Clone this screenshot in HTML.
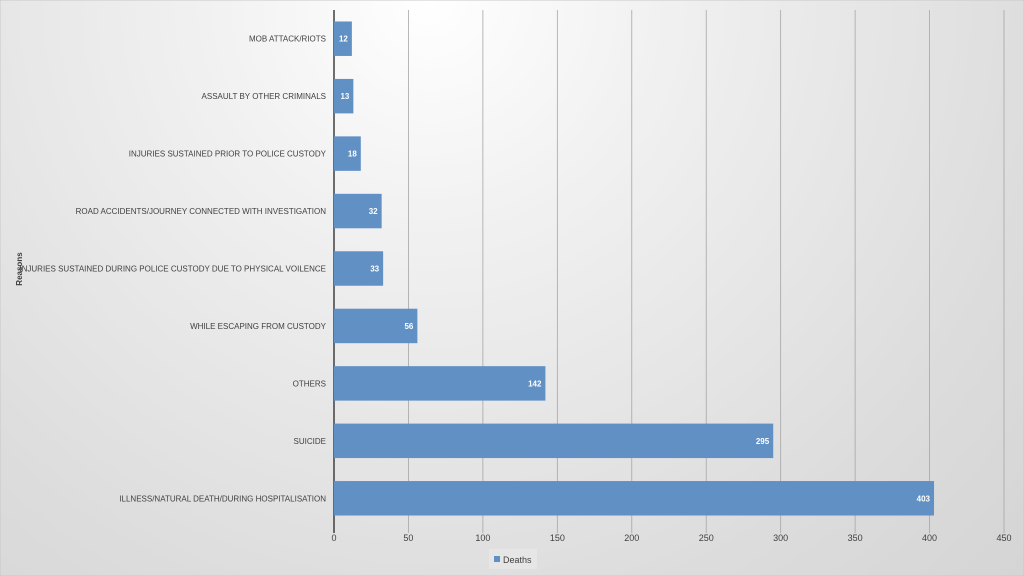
<!DOCTYPE html>
<html><head><meta charset="utf-8"><style>
html,body{margin:0;padding:0;width:1024px;height:576px;overflow:hidden;font-family:"Liberation Sans",sans-serif}
</style></head><body>
<svg id="chart" width="1024" height="576" xmlns="http://www.w3.org/2000/svg">
<defs>
<radialGradient id="bg" cx="430" cy="0" r="900" gradientUnits="userSpaceOnUse">
<stop offset="0" stop-color="#ffffff"/><stop offset="0.25" stop-color="#f1f1f1"/><stop offset="0.7" stop-color="#dcdcdc"/><stop offset="1" stop-color="#d2d2d2"/>
</radialGradient>
</defs>
<rect x="0" y="0" width="1024" height="576" fill="url(#bg)" stroke="#c8c8c8"/>
<g id="grid"></g><g id="bars"></g><g id="labels"></g>
<text x="22" y="269" transform="rotate(-90 22 269)" text-anchor="middle" font-size="8" font-weight="bold" fill="#404040">Reasons</text>
<g>
<rect x="489" y="549" width="48" height="20" fill="#e6e6e6"/>
<rect x="494" y="556" width="6" height="6" fill="#6190c5"/>
<text x="503" y="563" font-size="9" fill="#404040">Deaths</text>
</g>
</svg>
<script>
const categories=["MOB ATTACK/RIOTS","ASSAULT BY OTHER CRIMINALS","INJURIES SUSTAINED PRIOR TO POLICE CUSTODY","ROAD ACCIDENTS/JOURNEY CONNECTED WITH INVESTIGATION","INJURIES SUSTAINED DURING POLICE CUSTODY DUE TO PHYSICAL VOILENCE","WHILE ESCAPING FROM CUSTODY","OTHERS","SUICIDE","ILLNESS/NATURAL DEATH/DURING HOSPITALISATION"];
const deaths=[12,13,18,32,33,56,142,295,403];
const ticks=[0,50,100,150,200,250,300,350,400,450];
const NS="http://www.w3.org/2000/svg";
const x0=334,x1=1004,yTop=10,yBot=527;
const xs=v=>x0+(v-0)/(450-0)*(x1-x0);
const band=(yBot-yTop)/categories.length;
const yc=i=>yTop+band*(i+0.5);
function mk(t,a,p){const e=document.createElementNS(NS,t);for(const k in a)e.setAttribute(k,a[k]);p.appendChild(e);return e;}
const grid=document.getElementById('grid'),bars=document.getElementById('bars'),labels=document.getElementById('labels');
ticks.forEach(t=>{
 const l=mk('line',{x1:xs(t),x2:xs(t),y1:yTop,y2:yBot+6,stroke:t===0?'#404040':'#a6a6a6','stroke-width':t===0?1.5:0.8},grid);
 
 
 const tx=mk('text',{x:xs(t),y:541,'text-anchor':'middle','font-size':9,fill:'#404040'},grid);
 tx.textContent=t;
 
 
});
categories.forEach((c,i)=>{
 const h=band*0.6;
 const r=mk('rect',{x:xs(0),y:yc(i)-h/2,width:xs(deaths[i])-xs(0),height:h,fill:'#6190c5'},bars);
 
 
 const v=mk('text',{x:xs(deaths[i])-4,y:yc(i)+3,'text-anchor':'end','font-size':8,'font-weight':'bold',fill:'#ffffff'},bars);
 v.textContent=deaths[i];
 
 
 const lb=mk('text',{x:326,y:yc(i)+3,'text-anchor':'end','font-size':8,fill:'#404040'},labels);
 lb.textContent=c;
 
 
});
</script>
</body></html>
